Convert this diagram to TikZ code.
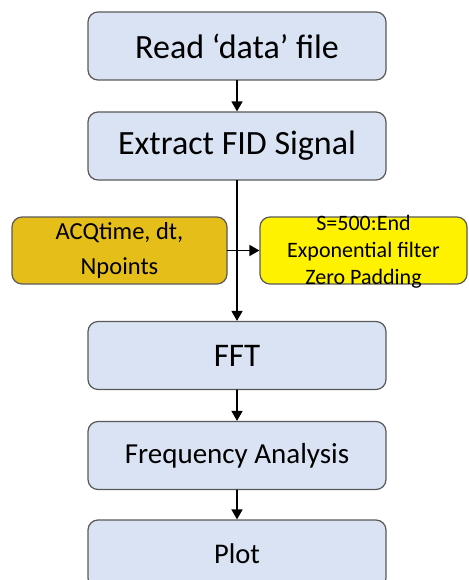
\documentclass[tikz,border=0pt]{standalone}
\usepackage{fontspec}
\setmainfont{Carlito}
\usetikzlibrary{arrows.meta}

\definecolor{boxblue}{RGB}{218,227,243}
\definecolor{boxline}{RGB}{89,89,89}
\definecolor{gold}{RGB}{230,190,26}

\begin{document}
\begin{tikzpicture}[x=1pt,y=-1pt,thick,line cap=round]
	\tikzstyle{step box}=[draw=boxline,line width=1.2pt,rounded corners=10pt,fill=boxblue,minimum width=298pt,minimum height=68pt,inner sep=0pt];
	\tikzstyle{side box}=[draw=boxline,line width=1.2pt,rounded corners=10pt,minimum height=67pt,inner sep=0pt,align=center];
	\tikzstyle{flow}=[line width=1.5pt,-{Triangle[length=10pt,width=11pt]}];
	\useasboundingbox (0,0) rectangle (468,580);
	%% main chain
	\node[step box,font=\fontsize{34}{38}\selectfont]   (read)    at (237,46)    {\raisebox{-3pt}{Read ‘data’ file}};
	\node[step box,font=\fontsize{34}{38}\selectfont]   (extract) at (237,146)   {Extract FID Signal};
	\node[step box,font=\fontsize{33}{38}\selectfont]   (fft)     at (237,355.5) {FFT};
	\node[step box,font=\fontsize{29}{34}\selectfont]   (freq)    at (237,455.5) {Frequency Analysis};
	\node[step box,font=\fontsize{28.5}{34}\selectfont] (plot)    at (237,554)   {Plot};
	%% side boxes
	\node[side box,fill=gold,minimum width=215pt,font=\fontsize{24.5}{35}\selectfont] (acq) at (119.5,250.5)
		{\raisebox{-2pt}{ACQtime, dt,}\\\raisebox{-2pt}{Npoints}};
	\node[side box,fill=yellow,minimum width=207pt] (filt) at (363.5,250.5)
		{\smash{\raisebox{-7pt}{\fontsize{22}{27}\selectfont\begin{tabular}{@{}c@{}}S=500:End\\Exponential filter\\Zero Padding\end{tabular}}}};
	%% connections
	\draw[flow] (read) -- (extract);
	\draw[flow] (extract) -- (fft);
	\draw[flow] (fft) -- (freq);
	\draw[flow] (freq) -- (plot);
	\draw[flow] (acq) -- (filt);
\end{tikzpicture}
\end{document}
